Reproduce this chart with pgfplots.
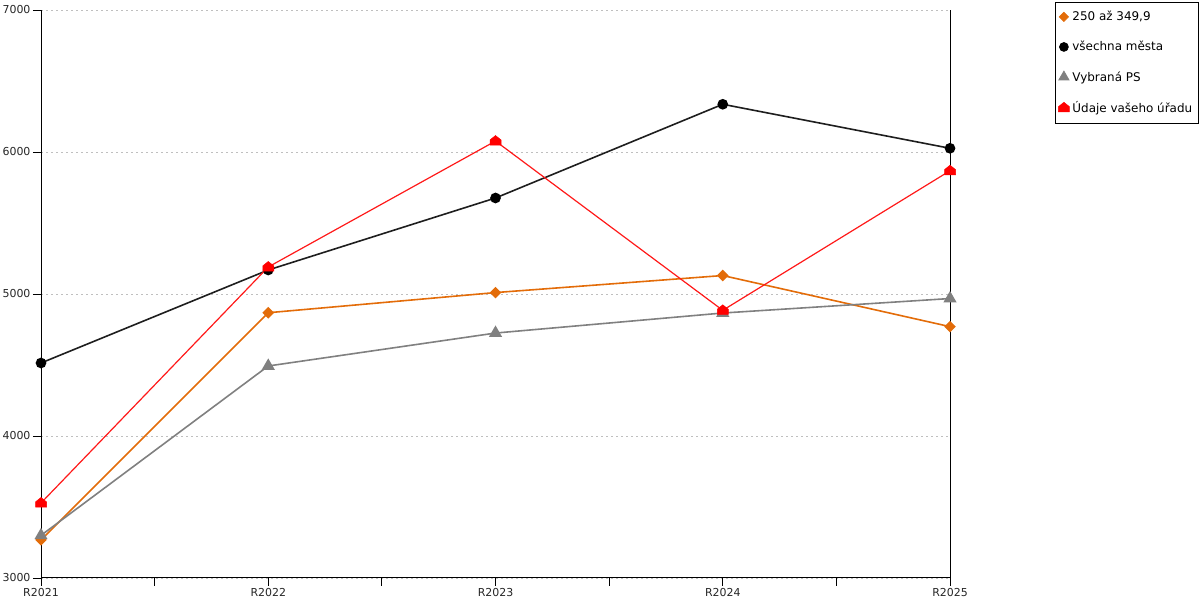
\documentclass[border=0pt]{standalone}
\usepackage{fontspec}
\setmainfont{DejaVu Sans}
\usepackage{pgfplots}
\pgfplotsset{compat=1.18}
\usetikzlibrary{plotmarks}
\definecolor{orng}{RGB}{227,108,9}
\definecolor{grayline}{RGB}{128,128,128}
\definecolor{blk}{RGB}{30,30,30}
\pgfdeclareplotmark{house}{%
  \pgfpathmoveto{\pgfqpoint{-\pgfplotmarksize}{-0.75\pgfplotmarksize}}%
  \pgfpathlineto{\pgfqpoint{\pgfplotmarksize}{-0.75\pgfplotmarksize}}%
  \pgfpathlineto{\pgfqpoint{\pgfplotmarksize}{0.2\pgfplotmarksize}}%
  \pgfpathlineto{\pgfqpoint{0pt}{1.0\pgfplotmarksize}}%
  \pgfpathlineto{\pgfqpoint{-\pgfplotmarksize}{0.2\pgfplotmarksize}}%
  \pgfpathclose
  \pgfusepathqfillstroke}
\begin{document}
\begin{tikzpicture}[x=1bp,y=1bp]
\path[use as bounding box] (0,0) rectangle (1200,600);
\begin{axis}[
  at={(41bp,22bp)}, anchor=south west,
  scale only axis,
  width=909bp, height=568bp,
  xmin=0, xmax=4, ymin=3000, ymax=7000,
  axis lines*=left,
  axis line style={black, line width=1bp},
  xtick={0,0.5,...,4},
  xticklabels={R2021,,R2022,,R2023,,R2024,,R2025},
  ytick={3000,4000,5000,6000,7000},
  tick style={black, line width=0.8bp},
  tick align=outside,
  major tick length=8bp,
  ymajorgrids,
  major grid style={dash pattern=on 2bp off 3bp, color=black!25, line width=0.6bp},
  tick label style={font=\fontsize{11}{13}\selectfont, text=black!85},
  /pgf/number format/assume math mode=true,
  /pgf/number format/1000 sep={},
  xticklabel style={yshift=1bp},
  yticklabel style={xshift=1bp},
  clip=false,
  legend style={at={(1,1)}, anchor=north west, xshift=105bp, yshift=8bp,
    draw=black, line width=0.8bp, fill=white,
    font=\fontsize{12}{14}\selectfont,
    row sep=15bp, inner xsep=3bp, inner ysep=7bp,
    nodes={inner xsep=3bp},
    legend cell align=left},
  legend image code/.code={\draw[line width=0.6bp] plot coordinates {(0.1cm,0cm)};},
]
\addplot[orng, line width=1.6bp, mark=square*, mark size=3.3bp, mark options={solid, fill=orng, draw=orng, rotate=45}]
  coordinates {(0,3268) (1,4868) (2,5010) (3,5130) (4,4770)};
\addlegendentry{250 až 349,9}
\addplot[blk, line width=1.6bp, mark=*, mark size=4.5bp, mark options={fill=black, draw=black}]
  coordinates {(0,4514) (1,5169) (2,5676) (3,6336) (4,6026)};
\addlegendentry{všechna města}
\addplot[grayline, line width=1.6bp, mark=triangle*, mark size=6bp, mark options={fill=grayline, draw=grayline}]
  coordinates {(0,3300) (1,4493) (2,4725) (3,4866) (4,4968)};
\addlegendentry{Vybraná PS}
\addplot[red!90!white, line width=1.2bp, mark=house, mark size=5.5bp, mark options={fill=red, draw=red, line width=0.5bp}]
  coordinates {(0,3528) (1,5190) (2,6077) (3,4885) (4,5868)};
\addlegendentry{Údaje vašeho úřadu}
\draw[black, line width=1bp] (axis cs:4,3000) -- (axis cs:4,7000);
\end{axis}
\end{tikzpicture}
\end{document}
